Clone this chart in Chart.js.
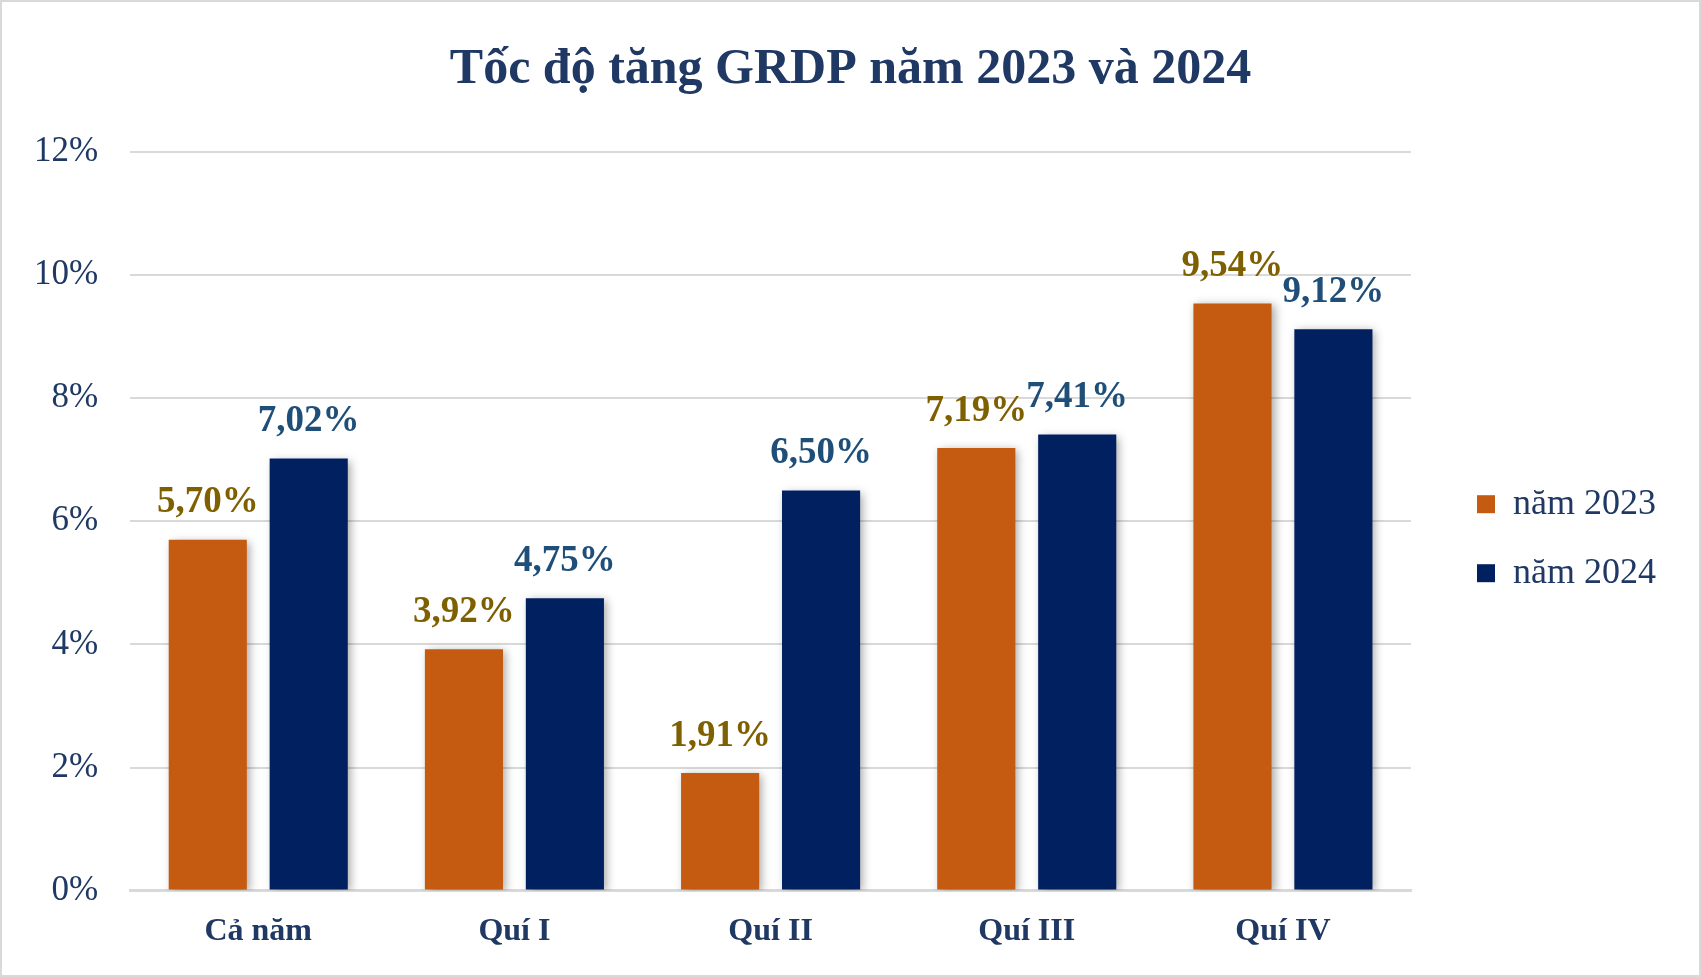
<!doctype html>
<html lang="vi">
  <head>
    <meta charset="utf-8">
    <title>Tốc độ tăng GRDP</title>
    <style>
      * {
        margin: 0;
        padding: 0;
      }
      body {
        background: white;
      }
      .chartBox {
        width: 1701px;
        height: 977px;
        box-sizing: border-box;
        border: solid 2px #D9D9D9;
        background: white;
      }
    </style>
  </head>
  <body>
    <div class="chartBox">
      <canvas id="myChart"></canvas>
    </div>
    <script src="https://cdn.jsdelivr.net/npm/chart.js/dist/chart.umd.min.js"></script>
    <script>
    // data
    const categories = ['Cả năm', 'Quí I', 'Quí II', 'Quí III', 'Quí IV'];
    const nam2023 = [5.70, 3.92, 1.91, 7.19, 9.54];
    const nam2024 = [7.02, 4.75, 6.50, 7.41, 9.12];
    const yTicks = [0, 2, 4, 6, 8, 10, 12];

    const serif = "'Liberation Serif', 'Times New Roman', serif";
    const textBlue = '#1F3864';

    // soft shadow under the bars
    const barShadow = {
      id: 'barShadow',
      beforeDatasetDraw(chart) {
        const ctx = chart.ctx;
        ctx.save();
        ctx.shadowColor = 'rgba(0, 0, 0, 0.35)';
        ctx.shadowBlur = 9;
        ctx.shadowOffsetX = 3;
        ctx.shadowOffsetY = 2;
      },
      afterDatasetDraw(chart) {
        chart.ctx.restore();
      }
    };

    // value labels above each bar
    const valueLabels = {
      id: 'valueLabels',
      afterDatasetsDraw(chart) {
        const ctx = chart.ctx;
        ctx.save();
        ctx.font = 'bold 37px ' + serif;
        ctx.textAlign = 'center';
        ctx.textBaseline = 'middle';
        chart.data.datasets.forEach((ds, i) => {
          ctx.fillStyle = ds.labelColor;
          chart.getDatasetMeta(i).data.forEach((bar, j) => {
            const txt = ds.data[j].toFixed(2).replace('.', ',') + '%';
            ctx.fillText(txt, bar.x, bar.y - 37);
          });
        });
        ctx.restore();
      }
    };

    // setup
    const data = {
      labels: categories,
      datasets: [{
        label: 'năm 2023',
        data: nam2023,
        backgroundColor: '#C55A11',
        labelColor: '#7F6000',
        barPercentage: 0.774,
        categoryPercentage: 0.788
      }, {
        label: 'năm 2024',
        data: nam2024,
        backgroundColor: '#002060',
        labelColor: '#1F4E79',
        barPercentage: 0.774,
        categoryPercentage: 0.788
      }]
    };

    // config
    const config = {
      type: 'bar',
      data,
      options: {
        responsive: true,
        maintainAspectRatio: false,
        animation: false,
        layout: {
          padding: { top: 0, left: 33, right: 33, bottom: 2 }
        },
        scales: {
          x: {
            grid: { display: false, drawTicks: false },
            border: { color: '#D9D9D9', width: 3 },
            ticks: {
              padding: 22,
              color: textBlue,
              font: { family: serif, size: 32, weight: 'bold' }
            }
          },
          y: {
            min: 0,
            max: 12,
            afterBuildTicks: axis => {
              axis.ticks = yTicks.map(v => ({ value: v }));
            },
            // labels may run into the left padding so the title stays centred
            afterFit: axis => { axis.width = axis.width - 33; },
            grid: { color: '#D9D9D9', lineWidth: 2, drawTicks: false },
            border: { display: false },
            ticks: {
              padding: 32,
              color: textBlue,
              font: { family: serif, size: 35 },
              callback: v => v + '%'
            }
          },
          gap: {
            position: 'right',
            grid: { display: false, drawTicks: false },
            border: { display: false },
            ticks: { display: false },
            afterFit: axis => { axis.width = 33; }
          }
        },
        plugins: {
          title: {
            display: true,
            text: 'Tốc độ tăng GRDP năm 2023 và 2024',
            color: textBlue,
            font: { family: serif, size: 50, weight: 'bold' },
            padding: { top: 38, bottom: 52 }
          },
          legend: {
            position: 'right',
            title: {
              display: true,
              text: ' ',
              font: { size: 12 },
              padding: { top: 0, bottom: 88 }
            },
            labels: {
              boxWidth: 18,
              boxHeight: 18,
              padding: 33,
              color: textBlue,
              font: { family: serif, size: 36 }
            }
          },
          tooltip: { enabled: false }
        }
      },
      plugins: [barShadow, valueLabels]
    };

    // render init block
    const myChart = new Chart(
      document.getElementById('myChart'),
      config
    );
    </script>
  </body>
</html>
